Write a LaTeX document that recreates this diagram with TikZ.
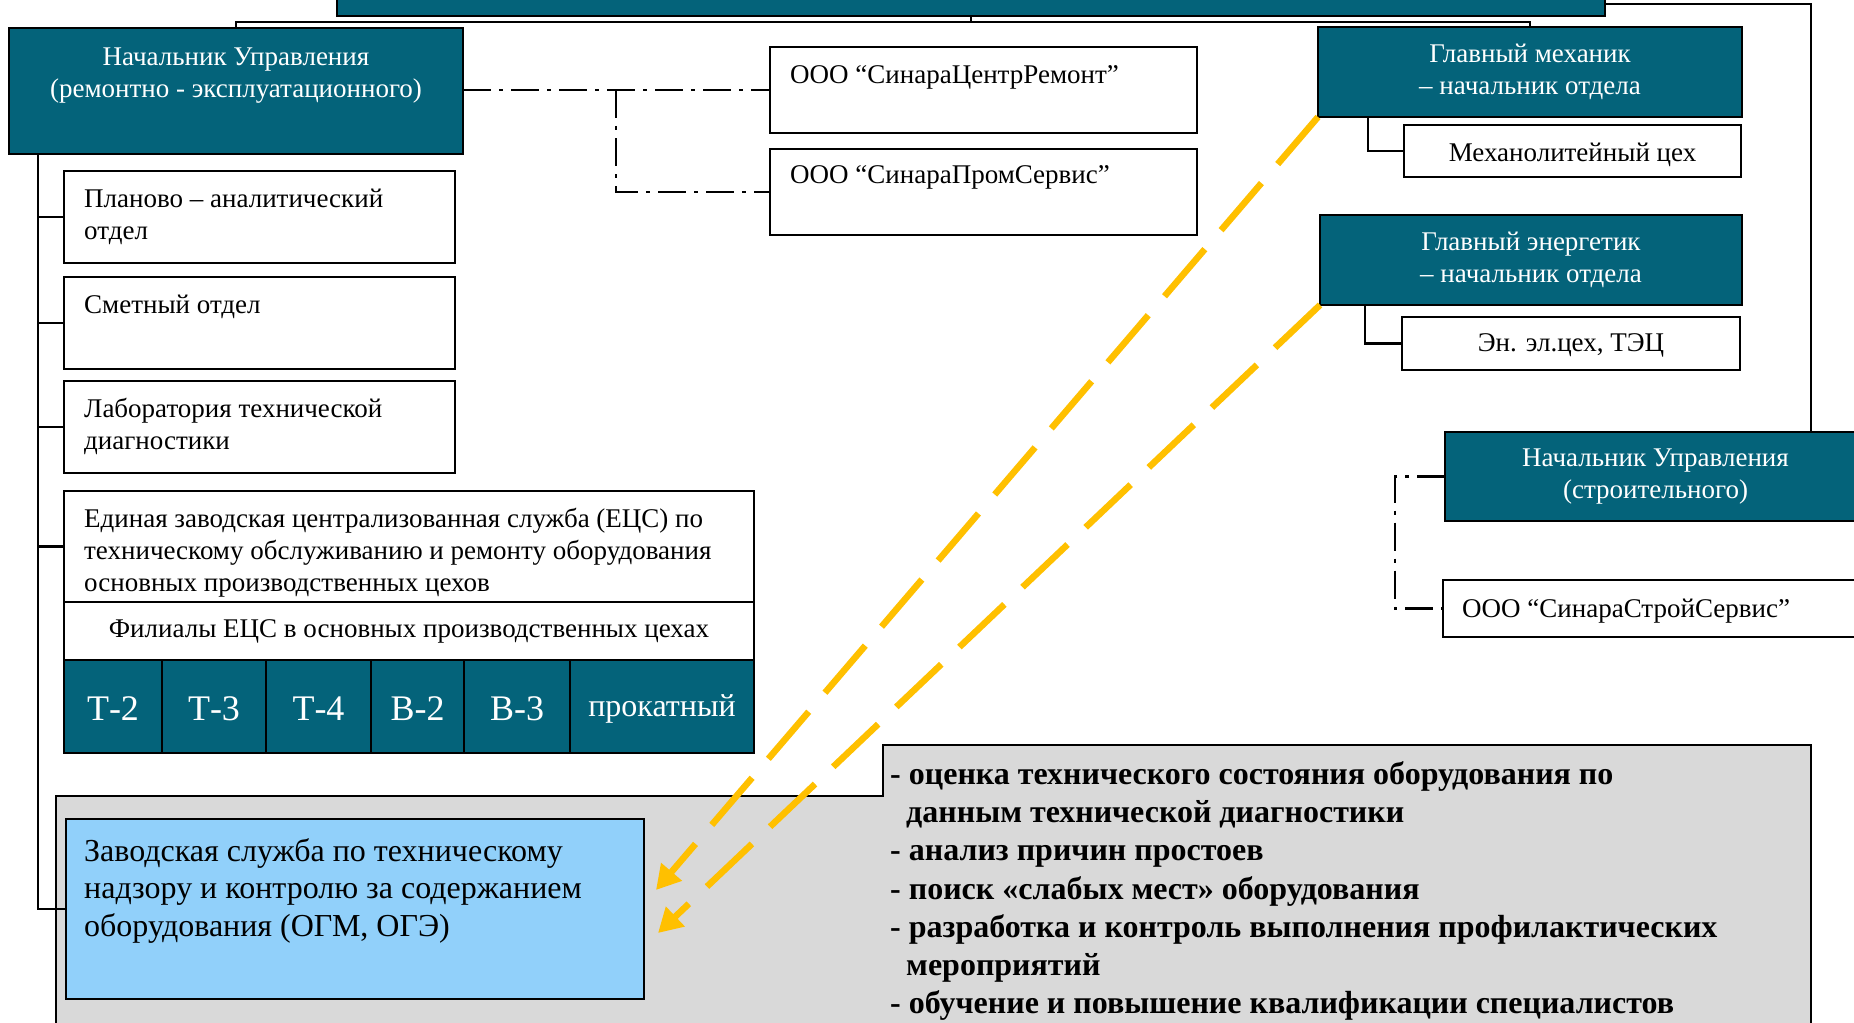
\documentclass[tikz,border=0pt]{standalone}
\usepackage{fontspec}
\setmainfont{Liberation Serif}
\usetikzlibrary{arrows.meta}
\definecolor{tealbox}{RGB}{4,99,122}
\definecolor{skyfill}{RGB}{145,208,250}
\definecolor{grayfill}{RGB}{217,217,217}
\definecolor{arrowyel}{RGB}{255,192,0}
\begin{document}
\begin{tikzpicture}[x=1pt,y=-1pt,
  bx/.style={draw=black, line width=2.6pt, anchor=north west, inner sep=0pt, outer sep=0pt},
  wbox/.style={bx, fill=white, text=black, font=\fontsize{27}{32}\selectfont},
  tbox/.style={bx, fill=tealbox, text=white, font=\fontsize{27}{32}\selectfont, align=center},
  cell/.style={bx, fill=tealbox, text=white, font=\fontsize{36}{42}\selectfont, minimum height=93pt, text height=27.4pt, text depth=0pt},
  conn/.style={draw=black, line width=2.6pt},
  dd/.style={conn, dash pattern=on 28pt off 8pt on 4pt off 8pt},
  txt/.style={inner sep=0pt, font=\fontsize{27}{32}\selectfont, align=left, anchor=north west},
  bigtxt/.style={inner sep=0pt, font=\fontsize{32}{37.8}\selectfont, align=left, anchor=north west},
  bultxt/.style={inner sep=0pt, font=\bfseries\fontsize{32}{38.3}\selectfont, align=left, anchor=north west},
  yarrow/.style={draw=arrowyel, line width=6.5pt, dash pattern=on 62pt off 25pt, -{Triangle[length=24pt,width=26pt]}}
]
\useasboundingbox (0,0) rectangle (1854,1022);
\clip (0,0) rectangle (1854,1022);
\fill[white] (0,0) rectangle (1854,1022);

% gray area
\draw[fill=grayfill, line width=2.6pt] (56,1040) -- (56,796) -- (883,796) -- (883,745) -- (1811,745) -- (1811,1040);

% top box
\node[tbox, minimum width=1268pt, minimum height=40pt] (top) at (337,-24) {};

% left management
\node[tbox, minimum width=454pt, minimum height=126pt] (nu) at (9,28) {};
\node[txt, anchor=north, align=center, text=white] (nuT) at (236,47.5) {Начальник Управления\\(ремонтно - эксплуатационного)};

\node[wbox, minimum width=391pt, minimum height=92pt] (plan) at (64,171) {};
\node[txt] (planT) at (84,188.5) {Планово – аналитический\\отдел};
\node[wbox, minimum width=391pt, minimum height=92pt] (smet) at (64,277) {};
\node[txt] (smetT) at (84,294.5) {Сметный отдел};
\node[wbox, minimum width=391pt, minimum height=92pt] (lab) at (64,381) {};
\node[txt] (labT) at (84,397.5) {Лаборатория технической\\диагностики};
\node[wbox, minimum width=690pt, minimum height=111pt] (ecs) at (64,491) {};
\node[txt] (ecsT) at (84,507.5) {Единая заводская централизованная служба (ЕЦС) по\\техническому обслуживанию и ремонту оборудования\\основных производственных цехов};
\node[wbox, minimum width=690pt, minimum height=58pt] (fil) at (64,602) {Филиалы ЕЦС в основных производственных цехах};

\node[cell, minimum width=98pt] (t2) at (64,660) {Т-2};
\node[cell, minimum width=104pt] (t3) at (162,660) {Т-3};
\node[cell, minimum width=105pt] (t4) at (266,660) {Т-4};
\node[cell, minimum width=93pt] (b2) at (371,660) {В-2};
\node[cell, minimum width=106pt] (b3) at (464,660) {В-3};
\node[cell, minimum width=184pt, font=\fontsize{32}{38}\selectfont, text height=20.4pt] (prok) at (570,660) {прокатный};

% contractors
\node[wbox, minimum width=427pt, minimum height=86pt] (ooo1) at (770,47) {};
\node[txt] (ooo1T) at (790,65) {ООО “СинараЦентрРемонт”};
\node[wbox, minimum width=427pt, minimum height=86pt] (ooo2) at (770,149) {};
\node[txt] (ooo2T) at (790,165.5) {ООО “СинараПромСервис”};

% right side
\node[tbox, minimum width=424pt, minimum height=90pt] (gm) at (1318,27) {Главный механик\\– начальник отдела};
\node[wbox, minimum width=337pt, minimum height=52pt, text height=20pt, text depth=0pt] (mech) at (1404,125) {Механолитейный цех};
\node[tbox, minimum width=422pt, minimum height=90pt] (ge) at (1320,215) {Главный энергетик\\– начальник отдела};
\node[wbox, minimum width=338pt, minimum height=53pt, text height=15.9pt, text depth=0pt] (tec) at (1402,317) {Эн. эл.цех, ТЭЦ};
\node[tbox, minimum width=421pt, minimum height=89pt] (nus) at (1445,432) {Начальник Управления\\(строительного)};
\node[wbox, minimum width=423pt, minimum height=57pt] (oss) at (1443,580) {};
\node[txt] (ossT) at (1462,599) {ООО “СинараСтройСервис”};

% bottom
\node[bx, fill=skyfill, minimum width=578pt, minimum height=180pt] (blue) at (66,819) {};
\node[bigtxt] (blueT) at (84,838) {Заводская служба по техническому\\надзору и контролю за содержанием\\оборудования (ОГМ, ОГЭ)};
\node[bultxt] (bulT) at (890,761) {- оценка технического состояния оборудования по\\\hspace*{16pt}данным технической диагностики\\- анализ причин простоев\\- поиск «слабых мест» оборудования\\- разработка и контроль выполнения профилактических\\\hspace*{16pt}мероприятий\\- обучение и повышение квалификации специалистов};

% solid connectors
\coordinate (bus) at (971,22);
\draw[conn] (nu.north) |- (bus) -| (gm.north);
\draw[conn] (top.south) -- (bus);
\coordinate (rt) at (1811,4);
\draw[conn] (top.east |- rt) -- (rt) -- (rt |- nus.north);
\coordinate (lb) at (38,0);
\draw[conn] (lb |- nu.south) -- (lb |- blue.west) -- (blue.west);
\draw[conn] (lb |- plan.west) -- (plan.west);
\draw[conn] (lb |- smet.west) -- (smet.west);
\draw[conn] (lb |- lab.west) -- (lab.west);
\draw[conn] (lb |- ecs.west) -- (ecs.west);
\coordinate (mx) at (1368,0);
\draw[conn] (mx |- gm.south) |- (mech.west);
\coordinate (ex) at (1365,0);
\draw[conn] (ex |- ge.south) |- (tec.west);

% dash-dot connectors
\coordinate (j1) at (616,0);
\draw[dd] (nu.east |- ooo1.west) -- (ooo1.west);
\draw[dd] (j1 |- ooo1.west) |- (ooo2.west);
\coordinate (j2) at (1395,0);
\draw[dd] (nus.west) -- (j2 |- nus.west) |- (oss.west);

% yellow arrows
\coordinate (a1) at (656,890);
\coordinate (a2) at (658,933);
\draw[yarrow] (gm.south west) -- (a1);
\draw[yarrow] (ge.south west) -- (a2);
\end{tikzpicture}
\end{document}
